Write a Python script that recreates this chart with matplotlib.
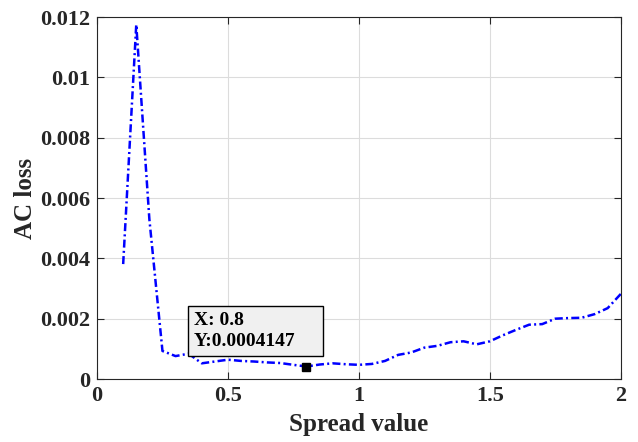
import matplotlib
matplotlib.use('Agg')
import matplotlib.pyplot as plt
from matplotlib.patches import Rectangle

spread = [0.1, 0.15, 0.2, 0.25, 0.3, 0.35, 0.4, 0.45, 0.5, 0.55, 0.6, 0.65, 0.7, 0.75,
          0.8, 0.85, 0.9, 0.95, 1.0, 1.05, 1.1, 1.15, 1.2, 1.25, 1.3, 1.35, 1.4, 1.45,
          1.5, 1.55, 1.6, 1.65, 1.7, 1.75, 1.8, 1.85, 1.9, 1.95, 2.0]
ac_loss = [0.00381, 0.01175, 0.0053, 0.00093, 0.00076, 0.00084, 0.00052, 0.00058, 0.00064,
           0.00060, 0.00058, 0.00055, 0.00053, 0.00047, 0.0004147, 0.00048, 0.00052,
           0.00049, 0.00047, 0.00050, 0.00060, 0.00080, 0.00088, 0.00104, 0.00110,
           0.00122, 0.00125, 0.00115, 0.00125, 0.00145, 0.00163, 0.00180, 0.00182,
           0.00200, 0.00202, 0.00203, 0.00215, 0.00235, 0.00282]
tip_x = 0.8
tip_y = 0.0004147

plt.rcParams['font.family'] = ['Liberation Serif', 'DejaVu Serif']
plt.rcParams['font.weight'] = 'bold'

fig = plt.figure(figsize=(6.38, 4.42), dpi=100)
ax = fig.add_axes([0.152, 0.1425, 0.821, 0.819])

ax.plot(spread, ac_loss, color='#0000ff', linewidth=1.8, dashes=(3.2, 1.3, 0.8, 1.3))
ax.plot([tip_x], [tip_y], marker='s', color='black', markersize=6, linestyle='none', zorder=5)

ax.set_xlim(0, 2)
ax.set_ylim(0, 0.012)
ax.set_xticks([0, 0.5, 1, 1.5, 2])
ax.set_xticklabels(['0', '0.5', '1', '1.5', '2'])
ax.set_yticks([0, 0.002, 0.004, 0.006, 0.008, 0.01, 0.012])
ax.set_yticklabels(['0', '0.002', '0.004', '0.006', '0.008', '0.01', '0.012'])
ax.tick_params(direction='in', top=True, right=True, labelsize=16, colors='#262626',
               length=5, pad=5)
for lbl in ax.get_xticklabels() + ax.get_yticklabels():
    lbl.set_fontweight('bold')
ax.grid(True, color='#dcdcdc', linewidth=0.8)
for s in ax.spines.values():
    s.set_color('#262626')
    s.set_linewidth(0.8)

ax.set_xlabel('Spread value', fontsize=18, fontweight='bold', color='#262626', labelpad=5)
ax.set_ylabel('AC loss', fontsize=18, fontweight='bold', color='#262626', labelpad=2)

# data tip box
ax.add_patch(Rectangle((0.347, 0.00076), 0.515, 0.00166, facecolor='#f0f0f0',
                       edgecolor='black', linewidth=1, zorder=6))
ax.text(0.37, 0.00159, 'X: 0.8\nY:0.0004147', fontsize=14, fontweight='bold',
        va='center', ha='left', linespacing=1.25, zorder=7)

plt.savefig('out.png', dpi=100)
